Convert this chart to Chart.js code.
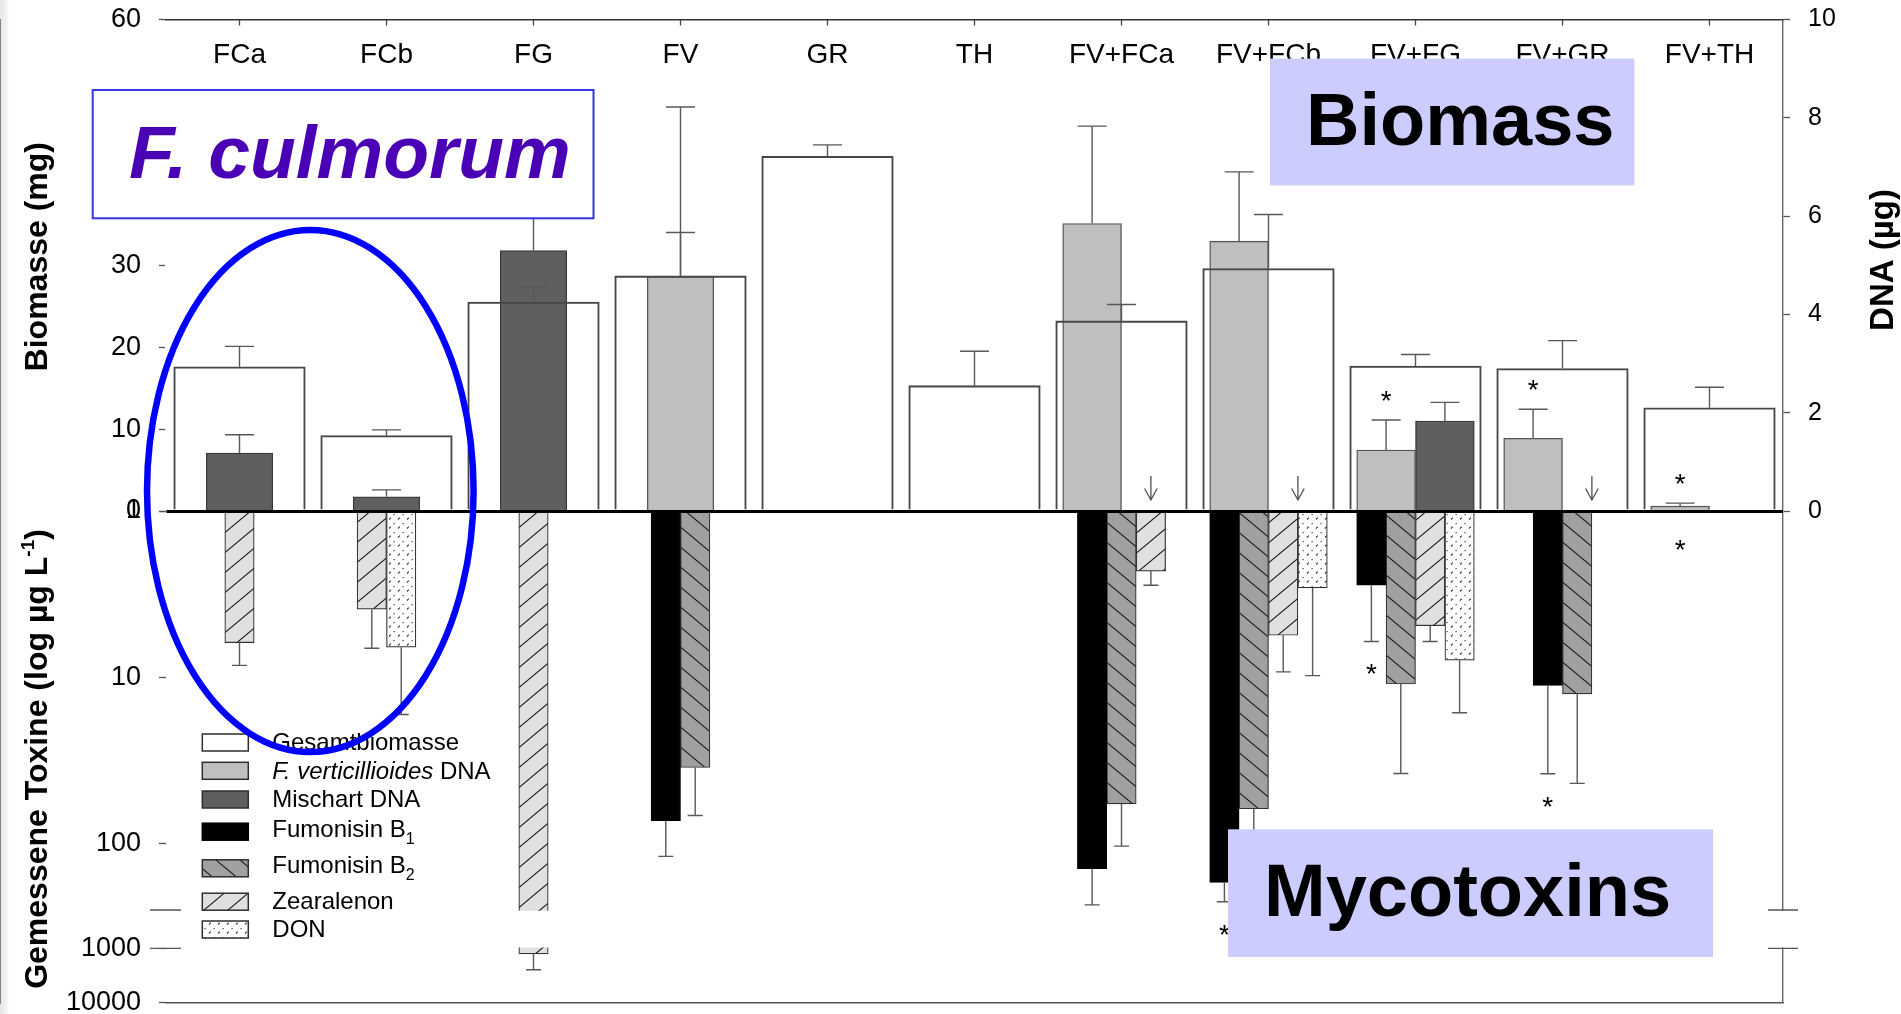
<!DOCTYPE html>
<html>
<head>
<meta charset="utf-8">
<script src="https://cdn.jsdelivr.net/npm/chart.js@4.4.1/dist/chart.umd.min.js"></script>
<style>
  html, body { margin: 0; padding: 0; background: #fff; overflow: hidden; }
  canvas { display: block; }
</style>
</head>
<body>
<canvas id="c" width="1901" height="1014"></canvas>
<script>
// ---------------------------------------------------------------------------
// Data
// ---------------------------------------------------------------------------
const categories = ['FCa', 'FCb', 'FG', 'FV', 'GR', 'TH', 'FV+FCa', 'FV+FCb', 'FV+FG', 'FV+GR', 'FV+TH'];
const coCulture  = [false, false, false, false, false, false, true, true, true, true, true];

const biomassTicks = [0, 10, 20, 30, 40, 50, 60];
const dnaTicks     = [0, 2, 4, 6, 8, 10];
const toxinTicks   = [1, 10, 100, 1000, 10000];

// Gesamtbiomasse (mg), mean and SD
const biomass   = [17.6, 9.2, 25.5, 28.7, 43.3, 15.3, 23.2, 29.6, 17.7, 17.4, 12.6];
const biomassSd = [2.5, 0.7, 1.8, 5.3, 1.4, 4.2, 2.0, 6.6, 1.4, 3.4, 2.5];

// F. verticillioides DNA (µg)
const fvDna   = [null, null, null, 4.77, null, null, 5.85, 5.49, 1.24, 1.48, 0.10];
const fvDnaSd = [null, null, null, 3.45, null, null, 1.98, 1.41, 0.61, 0.59, 0.06];

// DNA of the second species (µg); 0 = not detected
const mixDna   = [1.18, 0.29, 5.3, null, null, null, 0, 0, 1.83, 0, 0];
const mixDnaSd = [0.37, 0.14, 2.1, null, null, null, null, null, 0.38, null, null];
const mixDnaNotDetected = [false, false, false, false, false, false, true, true, false, true, false];

// Measured toxins (µg/L), mean and SD
const fb1   = [null, null, null, 73, null, null, 142, 172, 2.8, 11.2, null];
const fb1Sd = [null, null, null, 47, null, null, 93, 53, 3.3, 27, null];
const fb2   = [null, null, null, 35, null, null, 58, 62, 11, 12.6, null];
const fb2Sd = [null, null, null, 33, null, null, 46, 88, 27, 31, null];
const zea   = [6.2, 3.9, 1270, null, null, null, 2.3, 5.6, 4.9, null, null];
const zeaSd = [2.3, 2.8, 1220, null, null, null, 0.5, 3.7, 1.2, null, null];
const don   = [null, 6.6, null, null, null, null, null, 2.9, 7.9, null, null];
const donSd = [null, 10.2, null, null, null, null, null, 6.9, 8.5, null, null];

// Significant differences (asterisks)
const significant = [
  { category: 'FV+FG',  series: 'fvDna' },
  { category: 'FV+GR',  series: 'fvDna' },
  { category: 'FV+TH',  series: 'fvDna' },
  { category: 'FV+TH',  series: 'fvDna', mirrored: true },
  { category: 'FV+FCb', series: 'fb1' },
  { category: 'FV+FG',  series: 'fb1' },
  { category: 'FV+GR',  series: 'fb1' }
];

// ---------------------------------------------------------------------------
// Geometry of the plot
// ---------------------------------------------------------------------------
const AREA = { left: 166, top: 19.5, right: 1783, bottom: 1002.5 };
const CAT_PX = (AREA.right - AREA.left) / categories.length;   // width of one category
const SLOT = 0.2;                                              // toxin bar width, in categories

// ---------------------------------------------------------------------------
// Styles
// ---------------------------------------------------------------------------
const FONT = "'Liberation Sans', Arial, Helvetica, sans-serif";
const canvas = document.getElementById('c');
const mainCtx = canvas.getContext('2d');

function makePattern(bg, painter, w, h) {
  const c = document.createElement('canvas');
  c.width = w; c.height = h;
  const g = c.getContext('2d');
  g.fillStyle = bg;
  g.fillRect(0, 0, w, h);
  painter(g, w, h);
  return mainCtx.createPattern(c, 'repeat');
}
function hatch(dir) {
  return (g, w, h) => {
    g.strokeStyle = '#1e1e1e';
    g.lineWidth = 1.1;
    for (let k = -1; k <= 1; k++) {
      g.beginPath();
      if (dir === '/') { g.moveTo(-1, h + k * h + h / w); g.lineTo(w + 1, k * h - h / w); }
      else             { g.moveTo(-1, k * h - h / w);     g.lineTo(w + 1, h + k * h + h / w); }
      g.stroke();
    }
  };
}
function specks(g) {
  g.strokeStyle = '#3a3a3a';
  g.lineWidth = 1.2;
  g.beginPath(); g.moveTo(2, 6.5); g.lineTo(3.8, 4.7); g.stroke();
  g.fillStyle = '#3a3a3a';
  g.fillRect(6.5, 1, 1.2, 1.2);
}

const styles = {
  biomass: { backgroundColor: 'rgba(255,255,255,0)', swatch: '#ffffff', borderColor: '#474747', borderWidth: 1.4 },
  fvDna:   { backgroundColor: '#bfbfbf', swatch: '#bfbfbf', borderColor: '#555555', borderWidth: 1.4 },
  mixDna:  { backgroundColor: '#5f5f5f', swatch: '#5f5f5f', borderColor: '#3a3a3a', borderWidth: 1.4 },
  fb1:     { backgroundColor: '#000000', swatch: '#000000', borderColor: '#000000', borderWidth: 1 },
  fb2:     { backgroundColor: makePattern('#a0a0a0', hatch('\\'), 24, 20), borderColor: '#333333', borderWidth: 1.2 },
  zea:     { backgroundColor: makePattern('#e0e0e0', hatch('/'), 24, 20), borderColor: '#333333', borderWidth: 1.2 },
  don:     { backgroundColor: makePattern('#ffffff', specks, 9, 9), borderColor: '#333333', borderWidth: 1.2 }
};
styles.fb2.swatch = styles.fb2.backgroundColor;
styles.zea.swatch = styles.zea.backgroundColor;
styles.don.swatch = styles.don.backgroundColor;

const legendRows = [
  { series: 'biomass', baseline: 750,   swatchY: 742.5, text: [['Gesamtbiomasse', 'n']] },
  { series: 'fvDna',   baseline: 778.5, swatchY: 770.8, text: [['F. verticillioides', 'i'], [' DNA', 'n']] },
  { series: 'mixDna',  baseline: 807.3, swatchY: 799.5, text: [['Mischart DNA', 'n']] },
  { series: 'fb1',     baseline: 837.3, swatchY: 831.7, text: [['Fumonisin B', 'n'], ['1', 'sub']] },
  { series: 'fb2',     baseline: 873.3, swatchY: 868.3, text: [['Fumonisin B', 'n'], ['2', 'sub']] },
  { series: 'zea',     baseline: 909.3, swatchY: 901.7, text: [['Zearalenon', 'n']] },
  { series: 'don',     baseline: 937.3, swatchY: 929.5, text: [['DON', 'n']] }
];

// ---------------------------------------------------------------------------
// Log axis with a break between the upper and lower segment
// ---------------------------------------------------------------------------
class BrokenLogScale extends Chart.Scale {
  static id = 'brokenLog';
  static defaults = {};
  determineDataLimits() {
    this.min = this.options.min;
    this.max = this.options.max;
  }
  buildTicks() {
    return (this.options.tickValues || []).map(v => ({ value: v }));
  }
  getLabelForValue(v) { return String(v); }
  _fraction(v) {
    const o = this.options;
    if (v == null || v <= this.min) return o.originFraction;
    if (v <= o.breakFrom) return o.originFraction + Math.log10(v / this.min) * o.decadeFraction;
    if (v < o.breakTo) return o.originFraction + Math.log10(o.breakFrom / this.min) * o.decadeFraction;
    return o.resumeFraction + Math.log10(v / o.breakTo) * o.lowerDecadeFraction;
  }
  getPixelForValue(v) {
    return this.top + this._fraction(v) * (this.bottom - this.top);
  }
  getValueForPixel(p) {
    const o = this.options;
    const f = (p - this.top) / (this.bottom - this.top);
    if (f >= o.resumeFraction) return o.breakTo * Math.pow(10, (f - o.resumeFraction) / o.lowerDecadeFraction);
    return this.min * Math.pow(10, (f - o.originFraction) / o.decadeFraction);
  }
  getBasePixel() { return this.getPixelForValue(this.min); }
}
Chart.register(BrokenLogScale);

// ---------------------------------------------------------------------------
// Bar positions: category index plus the slot of the bar inside its group
// ---------------------------------------------------------------------------
function centred(values, sds, keep) {
  const pts = [];
  values.forEach((v, i) => {
    if (v == null || !keep(i)) return;
    pts.push({ x: i, y: v, sd: sds[i], cat: i });
  });
  return pts;
}
function paired(values, sds, side, flags) {
  const pts = [];
  values.forEach((v, i) => {
    if (v == null || !coCulture[i]) return;
    pts.push({ x: i + side * SLOT, y: v, sd: sds[i], cat: i, nd: flags ? flags[i] : false });
  });
  return pts;
}
const toxinSeries = { fb1: [fb1, fb1Sd], fb2: [fb2, fb2Sd], zea: [zea, zeaSd], don: [don, donSd] };
const toxinOrder = ['fb1', 'fb2', 'zea', 'don'];
function toxinPoints(key) {
  const pts = [];
  categories.forEach((c, i) => {
    const present = toxinOrder.filter(k => toxinSeries[k][0][i] != null);
    const slot = present.indexOf(key);
    if (slot < 0) return;
    pts.push({
      x: i + (slot - (present.length - 1) / 2) * SLOT,
      y: toxinSeries[key][0][i], sd: toxinSeries[key][1][i], cat: i
    });
  });
  return pts;
}

const single = i => !coCulture[i];
const common = { xAxisID: 'xPos', grouped: false };

const datasets = [
  { key: 'biomass', label: 'Gesamtbiomasse', data: centred(biomass, biomassSd, () => true), cap: 29,
    yAxisID: 'yBio', barThickness: 0.895 * CAT_PX, order: 0, ...common, ...styles.biomass },

  { key: 'fvDna', label: 'F. verticillioides DNA', data: centred(fvDna, fvDnaSd, single), cap: 29,
    yAxisID: 'yDna', barThickness: 0.453 * CAT_PX, order: 1, ...common, ...styles.fvDna },
  { key: 'mixDna', label: 'Mischart DNA', data: centred(mixDna, mixDnaSd, single), cap: 29,
    yAxisID: 'yDna', barThickness: 0.453 * CAT_PX, order: 1, ...common, ...styles.mixDna },
  { key: 'fvDna', label: 'F. verticillioides DNA', data: paired(fvDna, fvDnaSd, -1), cap: 29,
    yAxisID: 'yDna', barThickness: 2 * SLOT * CAT_PX, order: 1, ...common, ...styles.fvDna },
  { key: 'mixDna', label: 'Mischart DNA', data: paired(mixDna, mixDnaSd, 1, mixDnaNotDetected), cap: 29,
    yAxisID: 'yDna', barThickness: 2 * SLOT * CAT_PX, order: 1, ...common, ...styles.mixDna },

  { key: 'fb1', label: 'Fumonisin B1', data: toxinPoints('fb1'), cap: 15,
    yAxisID: 'yTox', barThickness: SLOT * CAT_PX, order: 2, ...common, ...styles.fb1 },
  { key: 'fb2', label: 'Fumonisin B2', data: toxinPoints('fb2'), cap: 15,
    yAxisID: 'yTox', barThickness: SLOT * CAT_PX, order: 2, ...common, ...styles.fb2 },
  { key: 'zea', label: 'Zearalenon', data: toxinPoints('zea'), cap: 15,
    yAxisID: 'yTox', barThickness: SLOT * CAT_PX, order: 2, ...common, ...styles.zea },
  { key: 'don', label: 'DON', data: toxinPoints('don'), cap: 15,
    yAxisID: 'yTox', barThickness: SLOT * CAT_PX, order: 2, ...common, ...styles.don }
];

// ---------------------------------------------------------------------------
// Drawing helpers (error bars, markers, axis break, titles, legend, callouts)
// ---------------------------------------------------------------------------
function drawPageEdge(chart) {
  const ctx = chart.ctx;
  const g = ctx.createLinearGradient(0, 0, 9, 0);
  g.addColorStop(0, '#e6e6e6');
  g.addColorStop(0.7, '#f1f1f1');
  g.addColorStop(1, '#ffffff');
  ctx.save();
  ctx.fillStyle = g;
  ctx.fillRect(0, 0, 9, chart.height);
  ctx.restore();
}

function drawBreakGap(chart) {
  const s = chart.scales.yTox, ctx = chart.ctx, a = chart.chartArea;
  const y1 = s.getPixelForValue(s.options.breakFrom) + 0.8;
  const y2 = s.getPixelForValue(s.options.breakTo) - 0.8;
  ctx.save();
  ctx.fillStyle = '#ffffff';
  ctx.fillRect(a.left - 8, y1, a.right - a.left + 16, y2 - y1);
  ctx.restore();
}

function drawBreakMarks(chart) {
  const s = chart.scales.yTox, ctx = chart.ctx, a = chart.chartArea;
  const ys = [s.getPixelForValue(s.options.breakFrom), s.getPixelForValue(s.options.breakTo)];
  ctx.save();
  ctx.strokeStyle = '#555555';
  ctx.lineWidth = 1.4;
  ctx.beginPath();
  ys.forEach(y => {
    ctx.moveTo(a.left - 16, y); ctx.lineTo(a.left + 15, y);
    ctx.moveTo(a.right - 15, y); ctx.lineTo(a.right + 15, y);
  });
  ctx.stroke();
  ctx.restore();
}

function drawErrorBars(chart) {
  const ctx = chart.ctx;
  ctx.save();
  ctx.strokeStyle = '#585858';
  ctx.lineWidth = 1.4;
  chart.data.datasets.forEach((ds, di) => {
    const meta = chart.getDatasetMeta(di);
    const scale = chart.scales[ds.yAxisID];
    meta.data.forEach((el, i) => {
      const p = ds.data[i];
      if (p.sd == null) return;
      const ye = scale.getPixelForValue(p.y + p.sd);
      ctx.beginPath();
      ctx.moveTo(el.x, el.y); ctx.lineTo(el.x, ye);
      ctx.moveTo(el.x - ds.cap / 2, ye); ctx.lineTo(el.x + ds.cap / 2, ye);
      ctx.stroke();
    });
  });
  ctx.restore();
}

function drawNotDetected(chart) {
  const ctx = chart.ctx;
  const zero = chart.scales.yDna.getPixelForValue(0);
  ctx.save();
  ctx.strokeStyle = '#505050';
  ctx.lineWidth = 1.3;
  chart.data.datasets.forEach((ds, di) => {
    chart.getDatasetMeta(di).data.forEach((el, i) => {
      if (!ds.data[i].nd) return;
      const top = zero - 35, tip = zero - 11;
      ctx.beginPath();
      ctx.moveTo(el.x, top); ctx.lineTo(el.x, tip);
      ctx.moveTo(el.x - 6.3, tip - 11.5); ctx.lineTo(el.x, tip); ctx.lineTo(el.x + 6.3, tip - 11.5);
      ctx.stroke();
    });
  });
  ctx.restore();
}

function drawSignificance(chart) {
  const ctx = chart.ctx;
  const zero = chart.scales.yBio.getPixelForValue(0);
  ctx.save();
  ctx.fillStyle = '#000';
  ctx.font = `28px ${FONT}`;
  ctx.textAlign = 'center';
  ctx.textBaseline = 'alphabetic';
  significant.forEach(mark => {
    const cat = categories.indexOf(mark.category);
    chart.data.datasets.forEach((ds, di) => {
      if (ds.key !== mark.series) return;
      const i = ds.data.findIndex(p => p.cat === cat);
      if (i < 0) return;
      const p = ds.data[i];
      const el = chart.getDatasetMeta(di).data[i];
      const scale = chart.scales[ds.yAxisID];
      let cy;
      if (mark.mirrored) {
        cy = zero + 32;
      } else {
        const ye = scale.getPixelForValue(p.y + (p.sd || 0));
        cy = ye + (ye < el.base ? -26 : 26);
      }
      ctx.fillText('*', el.x, cy + 16);
    });
  });
  ctx.restore();
}

function drawRotatedTitle(ctx, parts, x, cy, size) {
  ctx.save();
  ctx.translate(x, cy);
  ctx.rotate(-Math.PI / 2);
  ctx.fillStyle = '#000';
  ctx.textBaseline = 'alphabetic';
  ctx.textAlign = 'left';
  const fontFor = p => (p.sup ? `bold ${Math.round(size * 0.6)}px ${FONT}` : `bold ${size}px ${FONT}`);
  let total = 0;
  parts.forEach(p => { ctx.font = fontFor(p); total += ctx.measureText(p.t).width; });
  let tx = -total / 2;
  parts.forEach(p => {
    ctx.font = fontFor(p);
    ctx.fillText(p.t, tx, p.sup ? -size * 0.42 : 0);
    tx += ctx.measureText(p.t).width;
  });
  ctx.restore();
}

function drawAxisTitles(chart) {
  const ctx = chart.ctx;
  drawRotatedTitle(ctx, [{ t: 'Biomasse (mg)' }], 47, 256.7, 32);
  drawRotatedTitle(ctx, [{ t: 'Gemessene Toxine (log µg L' }, { t: '-1', sup: true }, { t: ')' }], 47, 759, 32);
  drawRotatedTitle(ctx, [{ t: 'DNA (µg)' }], 1893, 260, 33);
}

function drawLegend(chart) {
  const ctx = chart.ctx;
  const x = 202.3, w = 46, h = 17, textX = 272.3;
  ctx.save();
  legendRows.forEach(row => {
    const st = styles[row.series];
    const y = row.swatchY - h / 2;
    ctx.fillStyle = st.swatch;
    ctx.fillRect(x, y, w, h);
    ctx.strokeStyle = row.series === 'fb1' ? '#000' : '#2e2e2e';
    ctx.lineWidth = 1.5;
    ctx.strokeRect(x, y, w, h);
    let tx = textX;
    ctx.fillStyle = '#000';
    ctx.textAlign = 'left';
    ctx.textBaseline = 'alphabetic';
    row.text.forEach(([t, kind]) => {
      ctx.font = kind === 'i' ? `italic 24px ${FONT}` : kind === 'sub' ? `16px ${FONT}` : `24px ${FONT}`;
      ctx.fillText(t, tx, row.baseline + (kind === 'sub' ? 6.5 : 0));
      tx += ctx.measureText(t).width;
    });
  });
  ctx.restore();
}

function drawCallouts(chart) {
  const ctx = chart.ctx;
  ctx.save();
  // F. culmorum label box
  ctx.fillStyle = '#ffffff';
  ctx.fillRect(92.7, 90, 500.8, 128.3);
  ctx.strokeStyle = '#3535e8';
  ctx.lineWidth = 2;
  ctx.strokeRect(92.7, 90, 500.8, 128.3);
  ctx.fillStyle = '#4a00b4';
  ctx.font = `italic bold 75px ${FONT}`;
  ctx.textAlign = 'left';
  ctx.textBaseline = 'alphabetic';
  ctx.fillText('F. culmorum', 129, 178.3);

  // Biomass / Mycotoxins tags
  ctx.fillStyle = '#ccccff';
  ctx.fillRect(1270, 58.6, 364.4, 126.8);
  ctx.fillRect(1228, 829.3, 485, 127.7);
  ctx.fillStyle = '#000';
  ctx.font = `bold 74px ${FONT}`;
  ctx.fillText('Biomass', 1306, 145.4);
  ctx.fillText('Mycotoxins', 1264, 916);

  // Ring around the F. culmorum group
  ctx.strokeStyle = '#0000ff';
  ctx.lineWidth = 6.5;
  ctx.beginPath();
  ctx.ellipse(310.3, 491, 163.3, 261, 0, 0, Math.PI * 2);
  ctx.stroke();
  ctx.restore();
}

// Fixes the plot area and the axis boxes to the intended geometry
const pinLayout = {
  id: 'pinLayout',
  afterLayout(chart) {
    Object.assign(chart.chartArea, AREA, { width: AREA.right - AREA.left, height: AREA.bottom - AREA.top });
    Object.values(chart.scales).forEach(s => {
      if (s.isHorizontal()) {
        s.left = AREA.left; s.right = AREA.right;
        if (s.options.position === 'top') { s.top = 0; s.bottom = AREA.top; }
        else { s.top = AREA.bottom; s.bottom = chart.height; }
      } else {
        s.top = AREA.top; s.bottom = AREA.bottom;
        if (s.options.position === 'left') { s.left = 0; s.right = AREA.left; }
        else { s.left = AREA.right; s.right = chart.width; }
      }
      s.width = s.right - s.left;
      s.height = s.bottom - s.top;
      s._gridLineItems = null;
      s._labelItems = null;
      s.configure();
    });
  }
};

const decor = {
  id: 'decor',
  beforeDraw(chart) {
    drawPageEdge(chart);
  },
  afterDatasetsDraw(chart) {
    drawBreakGap(chart);
    drawErrorBars(chart);
    drawNotDetected(chart);
    drawSignificance(chart);
  },
  afterDraw(chart) {
    drawBreakMarks(chart);
    drawAxisTitles(chart);
    drawLegend(chart);
    drawCallouts(chart);
  }
};

// ---------------------------------------------------------------------------
// Chart
// ---------------------------------------------------------------------------
Chart.defaults.font.family = FONT;
Chart.defaults.color = '#000';

new Chart(canvas, {
  type: 'bar',
  data: { labels: categories, datasets },
  options: {
    responsive: false,
    animation: false,
    devicePixelRatio: 1,
    layout: { padding: 0 },
    plugins: { legend: { display: false }, tooltip: { enabled: false } },
    scales: {
      x: {
        type: 'category', axis: 'x', position: 'top', offset: true,
        grid: { offset: false, drawOnChartArea: false, drawTicks: true, tickLength: -6, tickColor: '#444', tickWidth: 1.3 },
        border: { display: true, color: '#333', width: 1.6 },
        ticks: { mirror: true, padding: 19, autoSkip: false, maxRotation: 0, minRotation: 0, color: '#000', font: { size: 28 } },
        afterFit: s => { s.height = 19.5; }
      },
      xPos: {
        type: 'linear', axis: 'x', position: 'bottom', offset: false,
        min: -0.5, max: categories.length - 0.5,
        grid: { offset: false, drawOnChartArea: false, drawTicks: false },
        ticks: { display: false },
        border: { display: true, color: '#555', width: 1.4 },
        afterFit: s => { s.height = 11.5; }
      },
      yBio: {
        type: 'linear', axis: 'y', position: 'left', weight: 1,
        min: -60, max: 60,
        afterBuildTicks: s => { s.ticks = biomassTicks.map(v => ({ value: v })); },
        ticks: { autoSkip: false, padding: 18, color: '#000', font: { size: 27 } },
        grid: {
          z: 1, drawOnChartArea: true, drawTicks: true, tickLength: 7, tickColor: '#555', tickWidth: 1.3,
          color: c => (c.tick && c.tick.value === 0 ? '#000' : 'rgba(0,0,0,0)'),
          lineWidth: c => (c.tick && c.tick.value === 0 ? 3 : 1)
        },
        border: { display: true, color: '#555', width: 1.4 },
        afterFit: s => { s.width = 166; }
      },
      yTox: {
        type: 'brokenLog', axis: 'y', position: 'left', weight: 0,
        min: 1, max: 10000, tickValues: toxinTicks,
        originFraction: 0.5, decadeFraction: 0.169,
        breakFrom: 252, breakTo: 1000,
        resumeFraction: 0.9449, lowerDecadeFraction: 0.0551,
        ticks: { autoSkip: false, padding: 18, color: '#000', font: { size: 27 } },
        grid: { drawOnChartArea: false, drawTicks: true, tickLength: 7, tickColor: '#555', tickWidth: 1.3 },
        border: { display: false, width: 0, color: 'rgba(0,0,0,0)' },
        afterFit: s => { s.width = 0; }
      },
      yDna: {
        type: 'linear', axis: 'y', position: 'right',
        min: -10, max: 10,
        afterBuildTicks: s => { s.ticks = dnaTicks.map(v => ({ value: v })); },
        ticks: { autoSkip: false, padding: 18, color: '#000', font: { size: 25 } },
        grid: { drawOnChartArea: false, drawTicks: true, tickLength: 7, tickColor: '#555', tickWidth: 1.3 },
        border: { display: true, color: '#666', width: 1.4 },
        afterFit: s => { s.width = 118; }
      }
    }
  },
  plugins: [pinLayout, decor]
});
</script>
</body>
</html>
